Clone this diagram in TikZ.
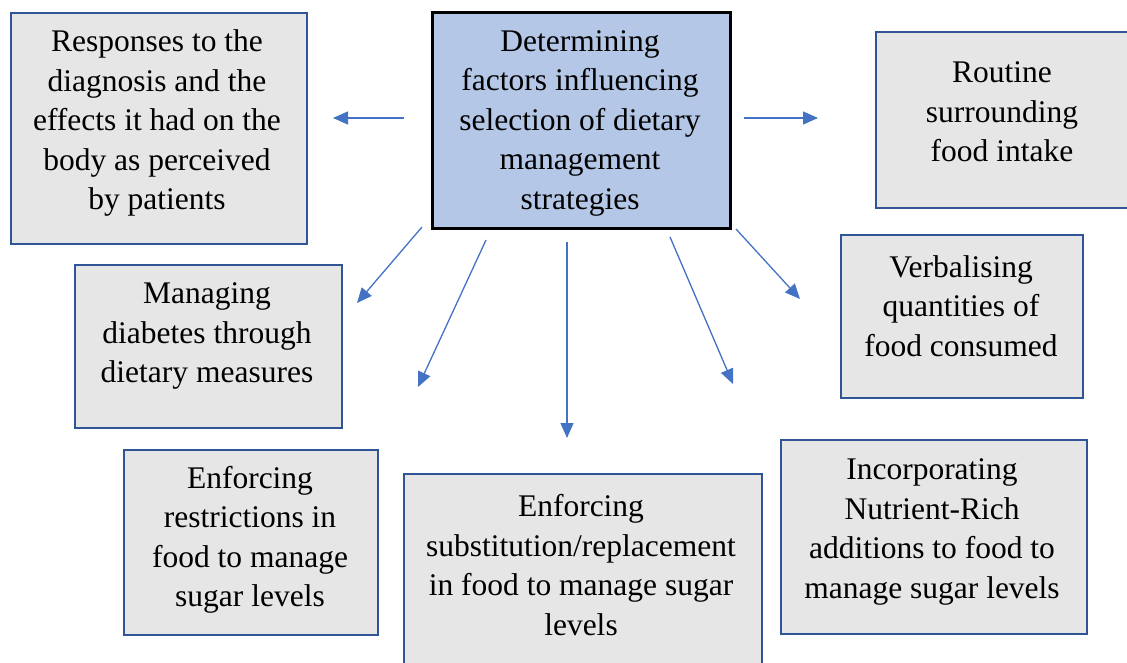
\documentclass[tikz,border=0pt]{standalone}
\usepackage{fontspec}
\setmainfont{Liberation Serif}
\usetikzlibrary{arrows.meta}
\definecolor{boxfill}{HTML}{E7E6E6}
\definecolor{boxline}{HTML}{2F5597}
\definecolor{hubfill}{HTML}{B4C7E7}
\definecolor{arrowblue}{HTML}{4472C4}
\tikzset{
  box/.style={rectangle, draw=boxline, fill=boxfill, line width=2pt,
              inner sep=0pt, anchor=north west},
  hubbox/.style={rectangle, draw=black, fill=hubfill, line width=3pt,
              inner sep=0pt, anchor=north west},
  txt/.style={align=center, inner sep=0pt,
              font=\fontsize{31.5}{39.5}\selectfont},
  link/.style={draw=arrowblue, line width=1.3pt,
              -{Triangle[length=15pt,width=13pt]}},
}
\begin{document}
\begin{tikzpicture}[x=1pt,y=-1pt]
\useasboundingbox (0,0) rectangle (1127,663);
\clip (0,0) rectangle (1127,663);

% boxes
\node[hubbox, minimum width=298, minimum height=216] (hub) at (431,11) {};
\node[box, minimum width=296, minimum height=231] (resp) at (10,12) {};
\node[box, minimum width=265, minimum height=176] (routine) at (875,31) {};
\node[box, minimum width=242, minimum height=163] (verb) at (840,234) {};
\node[box, minimum width=267, minimum height=163] (manage) at (74,264) {};
\node[box, minimum width=254, minimum height=185] (restr) at (123,449) {};
\node[box, minimum width=358, minimum height=207] (subst) at (403,473) {};
\node[box, minimum width=306, minimum height=194] (incorp) at (780,439) {};

% box texts
\node[txt] (hub-t) at (580,123) {Determining\\factors influencing\\selection of dietary\\management\\strategies};
\node[txt] (resp-t) at (157,123) {Responses to the\\diagnosis and the\\effects it had on the\\body as perceived\\by patients};
\node[txt] (routine-t) at (1002,112) {Routine\\surrounding\\food intake};
\node[txt] (verb-t) at (961,306) {Verbalising\\quantities of\\food consumed};
\node[txt] (manage-t) at (207,336) {Managing\\diabetes through\\dietary measures};
\node[txt] (restr-t) at (250,540) {Enforcing\\restrictions in\\food to manage\\sugar levels};
\node[txt] (subst-t) at (581,565) {Enforcing\\substitution/replacement\\in food to manage sugar\\levels};
\node[txt] (incorp-t) at (932,532) {Incorporating\\Nutrient-Rich\\additions to food to\\manage sugar levels};

% arrow ends
\coordinate (l0) at (404,118);  \coordinate (l1) at (333,118);
\coordinate (r0) at (744,118);  \coordinate (r1) at (818,118);
\coordinate (a0) at (422,227);  \coordinate (a1) at (357,303);
\coordinate (b0) at (486,240);  \coordinate (b1) at (418,387);
\coordinate (c0) at (567,242);  \coordinate (c1) at (567,438);
\coordinate (d0) at (670,237);  \coordinate (d1) at (733,384);
\coordinate (e0) at (736,229);  \coordinate (e1) at (800,299);

% arrows
\draw[link] (l0) -- (l1);
\draw[link] (r0) -- (r1);
\draw[link] (a0) -- (a1);
\draw[link] (b0) -- (b1);
\draw[link] (c0) -- (c1);
\draw[link] (d0) -- (d1);
\draw[link] (e0) -- (e1);
\end{tikzpicture}
\end{document}
